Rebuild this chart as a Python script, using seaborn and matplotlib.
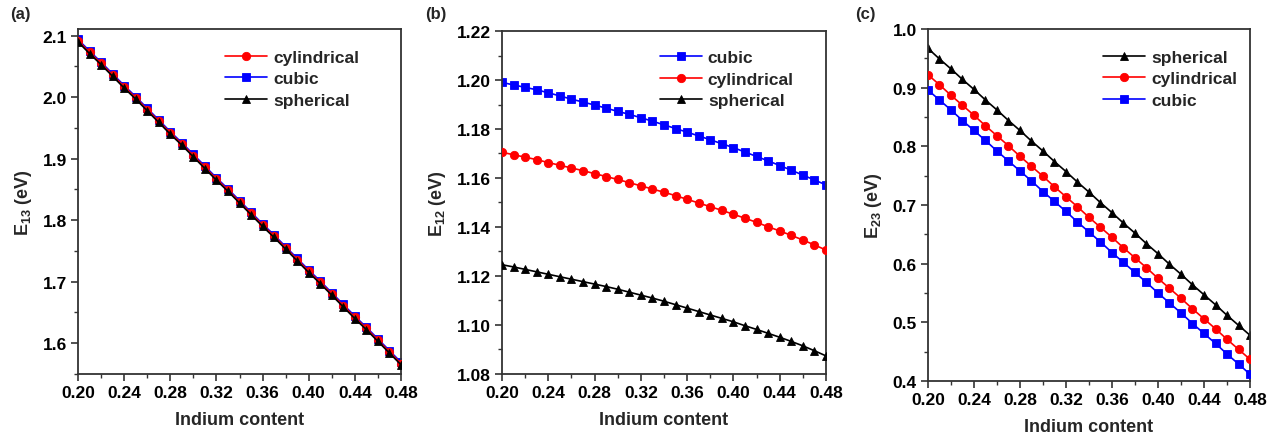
import numpy as np
import pandas as pd
import matplotlib
matplotlib.use("Agg")
import matplotlib.pyplot as plt
import seaborn as sns
from matplotlib.ticker import MultipleLocator

sns.set_theme(style="ticks")
plt.rcParams['font.family'] = ['Liberation Sans', 'DejaVu Sans']
plt.rcParams['font.weight'] = 'bold'
plt.rcParams['mathtext.fontset'] = 'custom'
plt.rcParams['mathtext.rm'] = 'Liberation Sans'
plt.rcParams['mathtext.it'] = 'Liberation Sans:italic'
plt.rcParams['mathtext.bf'] = 'Liberation Sans:bold'

indium = [0.20, 0.21, 0.22, 0.23, 0.24, 0.25, 0.26, 0.27, 0.28, 0.29,
          0.30, 0.31, 0.32, 0.33, 0.34, 0.35, 0.36, 0.37, 0.38, 0.39,
          0.40, 0.41, 0.42, 0.43, 0.44, 0.45, 0.46, 0.47, 0.48]

# Panel (a): E13
e13_cylindrical = [2.092, 2.073, 2.055, 2.036, 2.017, 1.999, 1.980, 1.961, 1.942, 1.924,
                   1.905, 1.886, 1.867, 1.849, 1.830, 1.811, 1.792, 1.774, 1.755, 1.736,
                   1.717, 1.699, 1.680, 1.661, 1.642, 1.624, 1.605, 1.586, 1.567]
e13_cubic = [2.094, 2.075, 2.057, 2.038, 2.019, 2.001, 1.982, 1.963, 1.944, 1.926,
             1.907, 1.888, 1.869, 1.851, 1.832, 1.813, 1.794, 1.776, 1.757, 1.738,
             1.719, 1.701, 1.682, 1.663, 1.644, 1.626, 1.607, 1.588, 1.569]
e13_spherical = [2.090, 2.071, 2.053, 2.034, 2.015, 1.997, 1.978, 1.959, 1.940, 1.922,
                 1.903, 1.884, 1.865, 1.847, 1.828, 1.809, 1.790, 1.772, 1.753, 1.734,
                 1.715, 1.697, 1.678, 1.659, 1.640, 1.622, 1.603, 1.584, 1.565]

# Panel (b): E12
e12_cubic = [1.1990, 1.1980, 1.1970, 1.1960, 1.1948, 1.1935, 1.1922, 1.1910, 1.1898, 1.1885,
             1.1872, 1.1860, 1.1846, 1.1832, 1.1817, 1.1802, 1.1787, 1.1772, 1.1756, 1.1740,
             1.1724, 1.1706, 1.1688, 1.1670, 1.1651, 1.1632, 1.1612, 1.1592, 1.1572]
e12_cylindrical = [1.1705, 1.1695, 1.1685, 1.1675, 1.1663, 1.1652, 1.1641, 1.1630, 1.1618, 1.1606,
                   1.1594, 1.1581, 1.1568, 1.1555, 1.1542, 1.1528, 1.1513, 1.1498, 1.1483, 1.1468,
                   1.1452, 1.1436, 1.1419, 1.1401, 1.1384, 1.1366, 1.1347, 1.1327, 1.1306]
e12_spherical = [1.1246, 1.1237, 1.1227, 1.1217, 1.1207, 1.1197, 1.1187, 1.1177, 1.1167, 1.1157,
                 1.1146, 1.1134, 1.1122, 1.1110, 1.1097, 1.1083, 1.1069, 1.1055, 1.1041, 1.1027,
                 1.1013, 1.0997, 1.0982, 1.0966, 1.0950, 1.0933, 1.0915, 1.0895, 1.0874]

# Panel (c): E23
e23_spherical = [0.967, 0.949, 0.932, 0.914, 0.897, 0.879, 0.862, 0.844, 0.827, 0.809,
                 0.792, 0.774, 0.757, 0.739, 0.722, 0.704, 0.687, 0.669, 0.652, 0.634,
                 0.617, 0.599, 0.582, 0.564, 0.547, 0.530, 0.512, 0.495, 0.478]
e23_cylindrical = [0.922, 0.905, 0.887, 0.870, 0.853, 0.835, 0.818, 0.801, 0.783, 0.766,
                   0.749, 0.731, 0.714, 0.697, 0.679, 0.662, 0.645, 0.627, 0.610, 0.593,
                   0.575, 0.558, 0.541, 0.523, 0.506, 0.489, 0.471, 0.454, 0.437]
e23_cubic = [0.896, 0.879, 0.862, 0.844, 0.827, 0.810, 0.792, 0.775, 0.758, 0.741,
             0.723, 0.706, 0.689, 0.671, 0.654, 0.637, 0.619, 0.602, 0.585, 0.568,
             0.550, 0.533, 0.516, 0.498, 0.481, 0.464, 0.446, 0.429, 0.4115]

styles = {
    'cylindrical': dict(color='#ff0000', marker='o'),
    'cubic': dict(color='#0000ff', marker='s'),
    'spherical': dict(color='#000000', marker='^'),
}

panels = [
    dict(label='(a)', ylabel='E$_{13}$ (eV)', pos=[0.0612, 0.1458, 0.2533, 0.7859],
         ylim=(1.55, 2.111), major=0.1, minor=0.05, fmt='%.1f',
         series=[('cylindrical', e13_cylindrical), ('cubic', e13_cubic), ('spherical', e13_spherical)],
         draw_order=['cubic', 'cylindrical', 'spherical'], txt=(10, 15), leg=(0.870, 0.939)),
    dict(label='(b)', ylabel='E$_{12}$ (eV)', pos=[0.3937, 0.1458, 0.2541, 0.7813],
         ylim=(1.08, 1.22), major=0.02, minor=0.01, fmt='%.2f',
         series=[('cubic', e12_cubic), ('cylindrical', e12_cylindrical), ('spherical', e12_spherical)],
         draw_order=['cubic', 'cylindrical', 'spherical'], txt=(425, 15), leg=(0.901, 0.944)),
    dict(label='(c)', ylabel='E$_{23}$ (eV)', pos=[0.7278, 0.1298, 0.2526, 0.8019],
         ylim=(0.4, 1.0), major=0.1, minor=0.05, fmt='%.1f',
         series=[('spherical', e23_spherical), ('cylindrical', e23_cylindrical), ('cubic', e23_cubic)],
         draw_order=['spherical', 'cylindrical', 'cubic'], txt=(855, 15), leg=(0.960, 0.940)),
]

fig = plt.figure(figsize=(12.75, 4.39), dpi=100)
W, H = 1275, 439

for p in panels:
    ax = fig.add_axes(p['pos'])
    data = dict(p['series'])
    for z, name in enumerate(p['draw_order']):
        df = pd.DataFrame({'x': indium, 'y': data[name]})
        st = styles[name]
        sns.lineplot(data=df, x='x', y='y', ax=ax, color=st['color'], marker=st['marker'],
                     markersize=6, markeredgecolor=st['color'], markeredgewidth=0.6,
                     linewidth=1.2, label=name, zorder=2 + z)
    hl, ll = ax.get_legend_handles_labels()
    hmap = dict(zip(ll, hl))
    order = [n for n, _ in p['series']]
    ax.legend([hmap[n] for n in order], order, loc='upper right', frameon=False,
              handlelength=2.4, handletextpad=0.35, borderaxespad=0.0, borderpad=0.0,
              labelspacing=0.35, bbox_to_anchor=p['leg'],
              prop={'weight': 'bold', 'size': 12.5})
    ax.set_xlim(0.20, 0.48)
    ax.set_ylim(*p['ylim'])
    ax.xaxis.set_major_locator(MultipleLocator(0.04))
    ax.xaxis.set_minor_locator(MultipleLocator(0.02))
    ax.yaxis.set_major_locator(MultipleLocator(p['major']))
    ax.yaxis.set_minor_locator(MultipleLocator(p['minor']))
    ax.xaxis.set_major_formatter(matplotlib.ticker.FormatStrFormatter('%.2f'))
    ax.yaxis.set_major_formatter(matplotlib.ticker.FormatStrFormatter(p['fmt']))
    ax.tick_params(axis='both', which='major', direction='out', length=5, width=1.2,
                   labelsize=12.5, colors='#333333', labelcolor='black', pad=3)
    ax.tick_params(axis='both', which='minor', direction='out', length=3, width=1.0,
                   colors='#333333')
    for lab in ax.get_xticklabels() + ax.get_yticklabels():
        lab.set_fontweight('bold')
    for sp in ax.spines.values():
        sp.set_visible(True)
        sp.set_linewidth(1.3)
        sp.set_color('#333333')
    ax.set_xlabel('Indium content', fontsize=13, fontweight='bold', labelpad=8)
    ax.set_ylabel(p['ylabel'], fontsize=13, fontweight='bold', labelpad=6)
    fig.text(p['txt'][0] / W, 1 - p['txt'][1] / H, p['label'], fontsize=12,
             fontweight='bold', ha='left', va='center')

fig.savefig('out.png', dpi=100)
